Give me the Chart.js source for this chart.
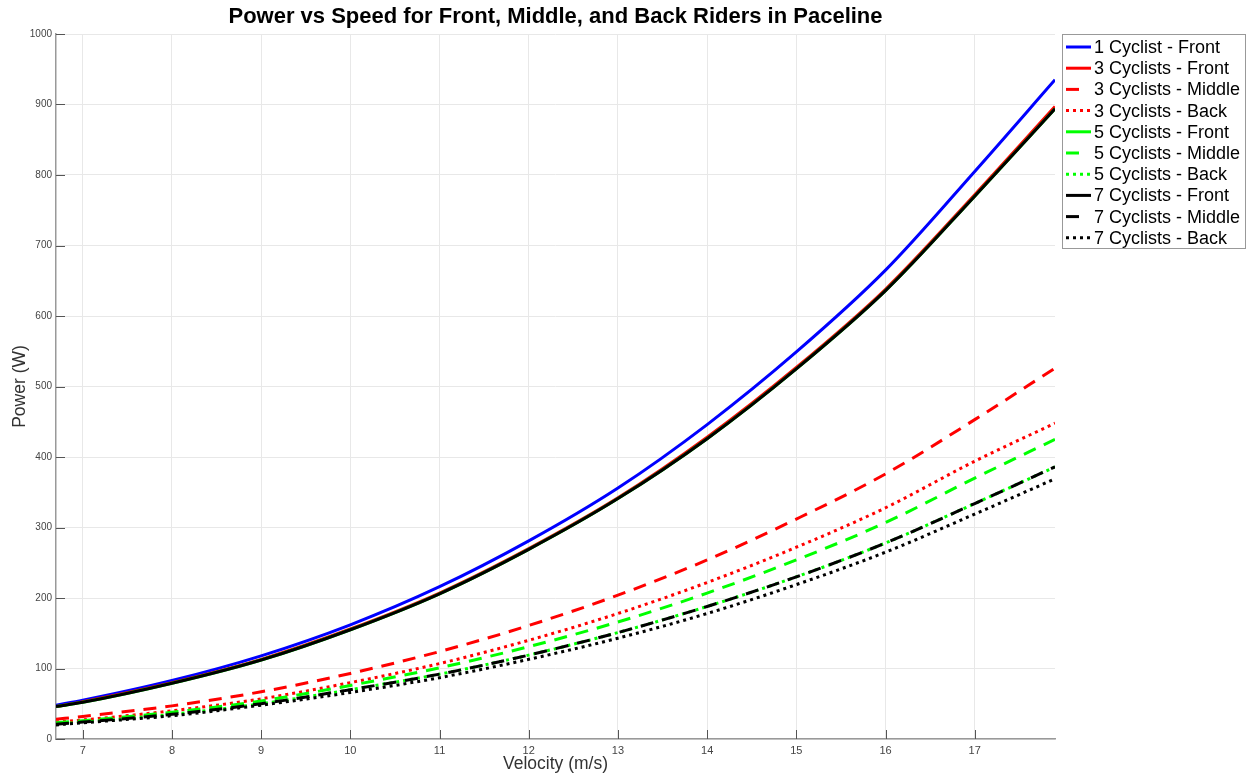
<!DOCTYPE html>
<html lang="en">
<head>
  <meta charset="UTF-8" />
  <title>Power vs Speed</title>
  <script src="https://cdn.jsdelivr.net/npm/chart.js@4.4.0/dist/chart.umd.min.js"></script>
  <style>
    body { margin: 0; background: #fff; }
    #wrap { width: 1250px; height: 777px; }
  </style>
</head>
<body>
  <div id="wrap">
    <canvas id="paceline" width="1250" height="777"></canvas>
  </div>

  <script>
    // velocity samples (m/s) and power (W)
    const velocity = [6.7, 7, 8, 9, 10, 11, 12, 13, 14, 15, 16, 17, 17.9];
    const one_front = [48, 55, 83, 118, 162, 216, 281, 356, 446, 549, 665, 805, 935];
    const three_front = [46, 53, 80, 113, 156, 207, 270, 342, 428, 527, 638, 772, 897];
    const three_middle = [28, 32, 47, 67, 93, 124, 161, 204, 254, 312, 376, 453, 526];
    const three_back = [24, 27, 40, 57, 80, 107, 140, 178, 222, 272, 328, 394, 448];
    const five_front = [46, 52, 79, 112, 155, 206, 269, 341, 426, 525, 636, 770, 894];
    const five_middle = [23, 26, 38, 54, 76, 101, 131, 166, 207, 254, 307, 370, 425];
    const five_back = [21, 24, 35, 50, 70, 92, 119, 151, 188, 230, 278, 334, 386];
    const seven_front = [46, 52, 79, 112, 155, 206, 269, 341, 426, 525, 636, 770, 894];
    const seven_middle = [21, 24, 35, 50, 70, 92, 119, 151, 188, 230, 278, 334, 386];
    const seven_back = [20, 23, 33, 48, 66, 87, 113, 143, 178, 219, 265, 319, 369];

    const xTicks = [7, 8, 9, 10, 11, 12, 13, 14, 15, 16, 17];
    const yTicks = [0, 100, 200, 300, 400, 500, 600, 700, 800, 900, 1000];

    const TITLE = 'Power vs Speed for Front, Middle, and Back Riders in Paceline';
    const FONT = 'Liberation Sans, Arial, Helvetica, sans-serif';
    const DASH = [13, 9];
    const DOT = [3, 4];

    const series = [
      { label: '1 Cyclist - Front', values: one_front, color: 'rgb(0,0,255)', dash: [] },
      { label: '3 Cyclists - Front', values: three_front, color: 'rgb(255,0,0)', dash: [] },
      { label: '3 Cyclists - Middle', values: three_middle, color: 'rgb(255,0,0)', dash: DASH },
      { label: '3 Cyclists - Back', values: three_back, color: 'rgb(255,0,0)', dash: DOT },
      { label: '5 Cyclists - Front', values: five_front, color: 'rgb(0,255,0)', dash: [] },
      { label: '5 Cyclists - Middle', values: five_middle, color: 'rgb(0,255,0)', dash: DASH },
      { label: '5 Cyclists - Back', values: five_back, color: 'rgb(0,255,0)', dash: DOT },
      { label: '7 Cyclists - Front', values: seven_front, color: 'rgb(0,0,0)', dash: [] },
      { label: '7 Cyclists - Middle', values: seven_middle, color: 'rgb(0,0,0)', dash: DASH },
      { label: '7 Cyclists - Back', values: seven_back, color: 'rgb(0,0,0)', dash: DOT }
    ];

    // later series sit on top, like the original plot
    const datasets = series.map((s, i) => ({
      label: s.label,
      data: velocity.map((v, k) => ({ x: v, y: s.values[k] })),
      borderColor: s.color,
      backgroundColor: s.color,
      borderDash: s.dash,
      borderWidth: 3,
      pointRadius: 0,
      fill: false,
      cubicInterpolationMode: 'monotone',
      order: series.length - i
    }));

    // title centred over the plot area, plus inward tick marks
    const frame = {
      id: 'frame',
      afterDatasetsDraw(chart) {
        const { ctx, chartArea, scales } = chart;
        ctx.save();
        ctx.strokeStyle = '#555';
        ctx.lineWidth = 1;
        xTicks.forEach(t => {
          const px = Math.round(scales.x.getPixelForValue(t)) + 0.5;
          ctx.beginPath();
          ctx.moveTo(px, chartArea.bottom);
          ctx.lineTo(px, chartArea.bottom - 9);
          ctx.stroke();
        });
        yTicks.forEach(t => {
          const py = Math.round(scales.y.getPixelForValue(t)) + 0.5;
          ctx.beginPath();
          ctx.moveTo(chartArea.left, py);
          ctx.lineTo(chartArea.left + 9, py);
          ctx.stroke();
        });
        ctx.fillStyle = '#000';
        ctx.font = 'bold 22px ' + FONT;
        ctx.textAlign = 'center';
        ctx.textBaseline = 'middle';
        ctx.fillText(TITLE, (chartArea.left + chartArea.right) / 2, 17);
        ctx.restore();
      }
    };

    // boxed legend at the right, like MATLAB's
    const boxLegend = {
      id: 'boxLegend',
      afterDraw(chart) {
        const ctx = chart.ctx;
        const bx = 1062.5, by = 34.5, bw = 183, bh = 214;
        ctx.save();
        ctx.fillStyle = '#fff';
        ctx.fillRect(bx, by, bw, bh);
        ctx.strokeStyle = '#999';
        ctx.lineWidth = 1;
        ctx.strokeRect(bx, by, bw, bh);
        chart.data.datasets.forEach((ds, i) => {
          const y = 47 + i * 21.2;
          const len = ds.borderDash === DASH ? 13 : 25;
          ctx.strokeStyle = ds.borderColor;
          ctx.lineWidth = 3;
          ctx.setLineDash(ds.borderDash);
          ctx.beginPath();
          ctx.moveTo(1066, y);
          ctx.lineTo(1066 + len, y);
          ctx.stroke();
          ctx.setLineDash([]);
          ctx.fillStyle = '#000';
          ctx.font = '18px ' + FONT;
          ctx.textBaseline = 'middle';
          ctx.textAlign = 'left';
          ctx.fillText(ds.label, 1094, y + 1);
        });
        ctx.restore();
      }
    };

    const ctx = document.getElementById('paceline').getContext('2d');
    const chart = new Chart(ctx, {
      type: 'line',
      data: { datasets: datasets },
      plugins: [frame, boxLegend],
      options: {
        responsive: false,
        animation: false,
        layout: { padding: { left: 0, right: 195, top: 34, bottom: 0 } },
        plugins: {
          legend: { display: false },
          tooltip: { enabled: false },
          title: { display: false }
        },
        scales: {
          x: {
            type: 'linear',
            min: 6.7,
            max: 17.9,
            afterBuildTicks: s => { s.ticks = xTicks.map(v => ({ value: v })); },
            afterFit: s => { s.height = 38; },
            grid: { color: '#e8e8e8', drawTicks: false },
            border: { color: '#999', width: 1.5 },
            ticks: { padding: 5, color: '#444', font: { family: FONT, size: 11 }, maxRotation: 0 },
            title: {
              display: true,
              text: 'Velocity (m/s)',
              color: '#333',
              font: { family: FONT, size: 17.5 },
              padding: { top: 0, bottom: 2 }
            }
          },
          y: {
            min: 0,
            max: 1000,
            afterBuildTicks: s => { s.ticks = yTicks.map(v => ({ value: v })); },
            afterFit: s => { s.width = 56; },
            grid: { color: '#e8e8e8', drawTicks: false },
            border: { color: '#999', width: 1.5 },
            ticks: {
              padding: 4,
              color: '#444',
              font: { family: FONT, size: 10 },
              callback: v => String(v)
            },
            title: {
              display: true,
              text: 'Power (W)',
              color: '#333',
              font: { family: FONT, size: 17.5 },
              padding: { top: 10, bottom: 0 }
            }
          }
        }
      }
    });
  </script>
</body>
</html>
